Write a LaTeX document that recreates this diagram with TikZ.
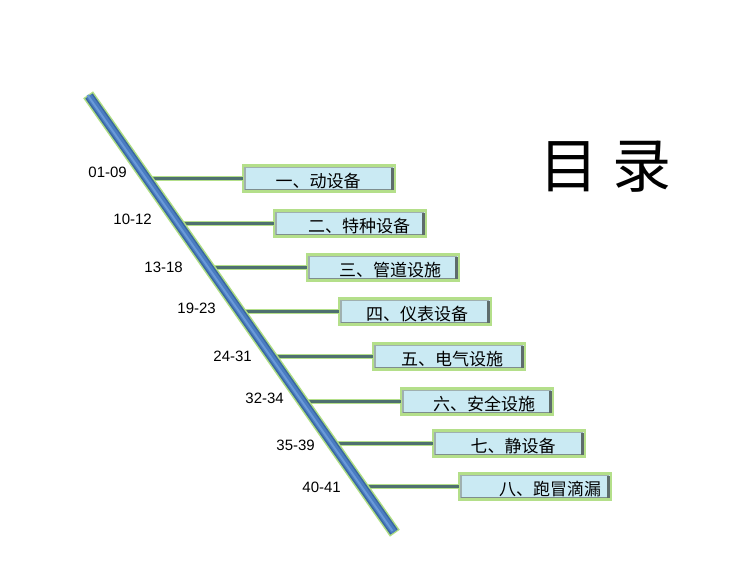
\documentclass[tikz,border=0pt]{standalone}
\usepackage{fontspec}
\setmainfont{Liberation Sans}
\newfontfamily\cjk{Noto Sans CJK SC}
\usetikzlibrary{calc}
\definecolor{boxfill}{HTML}{CAEAF3}
\definecolor{boxgreen}{HTML}{B4DF8A}
\definecolor{bevlight}{HTML}{9FB0B0}
\definecolor{bevmid}{HTML}{7E8E8E}
\definecolor{bevdark}{HTML}{5E6C6C}
\definecolor{spinegreen}{HTML}{AEDD82}
\definecolor{spineblue}{HTML}{4A7CC2}
\definecolor{spinedark}{HTML}{3A669F}
\definecolor{spinelight}{HTML}{6A9AD8}
\definecolor{conndark}{HTML}{4F7070}
\tikzset{
  itembox/.style={draw=boxgreen, line width=2.4pt, fill=boxfill, minimum width=152pt, minimum height=26pt, inner sep=0pt, outer sep=0pt},
  itemtext/.style={font=\cjk\fontsize{17}{20}\selectfont, inner sep=0pt, text=black},
  rangelabel/.style={font=\fontsize{15}{18}\selectfont, anchor=east, inner sep=0pt, text=black},
  connout/.style={draw=boxgreen, line width=5pt},
  connin/.style={draw=conndark, line width=2.2pt},
}
\begin{document}
\begin{tikzpicture}[x=1pt,y=-1pt]
\useasboundingbox (0,0) rectangle (740,571);
\fill[white] (0,0) rectangle (740,571);
\coordinate (sT) at (89,96);
\coordinate (sB) at (394,532);
\foreach \i/\bx/\by/\tx/\lx/\ly/\lab/\txt in {
1/242/165/318/127/172.5/01-09/一、动设备,
2/273/210/359/152/219/10-12/二、特种设备,
3/306/254/390/183/267.5/13-18/三、管道设施,
4/338/298/417/216/308.5/19-23/四、仪表设备,
5/372/343/452/252/356/24-31/五、电气设施,
6/400/388/484/284/398.5/32-34/六、安全设施,
7/432/430/513/315/445.5/35-39/七、静设备,
8/458/473/550/341/487.5/40-41/八、跑冒滴漏}{
  \pgfmathsetmacro{\cy}{\by+13.5}
  \pgfmathsetmacro{\cx}{89+0.6995*(\cy-96)}
  \coordinate (c\i) at (\cx,\cy);
  \node[itembox] (b\i) at (\bx+77,\cy) {};
  \draw[connout] (c\i) -- (b\i.west);
  \draw[connin] (c\i) -- (b\i.west);
  \draw[line width=1.3pt, draw=bevlight] ([shift={(2,-2)}]b\i.south west) -- ([shift={(2,2)}]b\i.north west) -- ([shift={(-2,2)}]b\i.north east);
  \draw[line width=1.6pt, draw=bevmid] ([shift={(2,-2)}]b\i.south west) -- ([shift={(-2,-2)}]b\i.south east);
  \draw[line width=2.6pt, draw=bevdark] ([shift={(-2.6,2)}]b\i.north east) -- ([shift={(-2.6,-1.5)}]b\i.south east);
  \node[itemtext] (t\i) at (\tx,\by+16) {\txt};
  \node[rangelabel] (l\i) at (\lx,\ly) {\lab};
}
\draw[spinegreen, line width=12pt, shorten <=-1.5pt, shorten >=-1.5pt] (sT) -- (sB);
\draw[spinedark, line width=9pt] (sT) -- (sB);
\draw[spineblue, line width=6pt] (sT) -- (sB);
\draw[spinelight, line width=2pt] ([shift={(-1.5,-1)}]sT) -- ([shift={(-1.5,-1)}]sB);
\node[font=\cjk\fontsize{59}{62}\selectfont, inner sep=0pt] (title) at (605.5,167) {目 录};
\end{tikzpicture}
\end{document}
